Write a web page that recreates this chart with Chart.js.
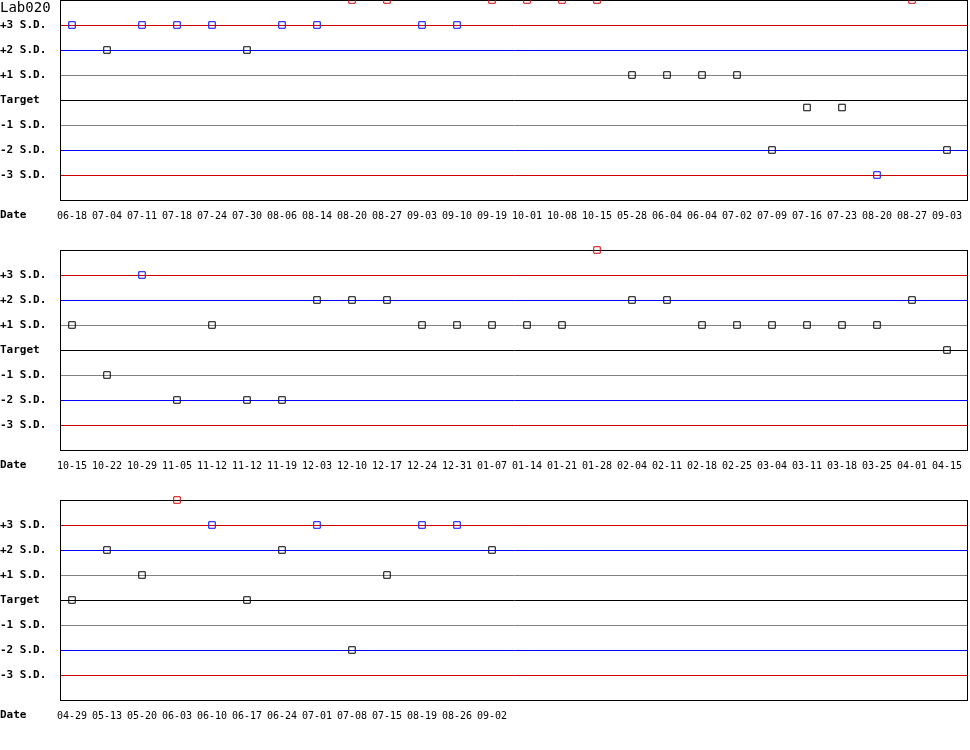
<!DOCTYPE html>
<html><head><meta charset="utf-8">
<script src="https://cdn.jsdelivr.net/npm/chart.js@4/dist/chart.umd.min.js"></script>
<style>
html,body{margin:0;padding:0;background:#fff;overflow:hidden;width:970px;height:750px;position:relative}
canvas{position:absolute;left:0;display:block}
</style>
</head><body>
<canvas id="c1" width="970" height="260" style="top:-10px"></canvas>
<canvas id="c2" width="970" height="260" style="top:240px"></canvas>
<canvas id="c3" width="970" height="260" style="top:490px"></canvas>
<script>
// ---- data ----
const chartTitle = 'Lab020';
const axisTitle = 'Date';

const dates1 = ['06-18','07-04','07-11','07-18','07-24','07-30','08-06','08-14','08-20','08-27','09-03','09-10','09-19','10-01','10-08','10-15','05-28','06-04','06-04','07-02','07-09','07-16','07-23','08-20','08-27','09-03'];
const values1 = [3,2,3,3,3,2,3,3,4,4,3,3,4,4,4,4,1,1,1,1,-2,-0.3,-0.3,-3,4,-2];

const dates2 = ['10-15','10-22','10-29','11-05','11-12','11-12','11-19','12-03','12-10','12-17','12-24','12-31','01-07','01-14','01-21','01-28','02-04','02-11','02-18','02-25','03-04','03-11','03-18','03-25','04-01','04-15'];
const values2 = [1,-1,3,-2,1,-2,-2,2,2,2,1,1,1,1,1,4,2,2,1,1,1,1,1,1,2,0];

const dates3 = ['04-29','05-13','05-20','06-03','06-10','06-17','06-24','07-01','07-08','07-15','08-19','08-26','09-02'];
const values3 = [0,2,1,4,3,0,2,3,-2,1,3,3,2];

const yTickValues = [4,3,2,1,0,-1,-2,-3,-4];
const yTickLabels = ['','+3 S.D.','+2 S.D.','+1 S.D.','Target','-1 S.D.','-2 S.D.','-3 S.D.',''];

// ---- styles ----
const RED = '#d00000', BLUE = '#0000ff', GRAY = '#808080', BLACK = '#000000';
const lineColorFor = v => {
  const a = Math.abs(v);
  if (a === 4 || a === 0) return BLACK;
  if (a === 3) return RED;
  if (a === 2) return BLUE;
  return GRAY;
};
const pointColorFor = v => {
  const a = Math.abs(v);
  if (a > 3) return RED;
  if (a === 3) return BLUE;
  return BLACK;
};

const frame = {
  id: 'frame',
  beforeDatasetsDraw(chart) {
    const a = chart.chartArea, ctx = chart.ctx;
    ctx.save();
    ctx.strokeStyle = BLACK; ctx.lineWidth = 1;
    ctx.strokeRect(Math.round(a.left) + 0.5, Math.round(a.top) + 0.5,
                   Math.round(a.right - a.left) - 1, Math.round(a.bottom - a.top));
    ctx.restore();
  },
  afterDraw(chart, args, opts) {
    const ctx = chart.ctx;
    ctx.save();
    ctx.fillStyle = BLACK;
    ctx.textAlign = 'left';
    ctx.textBaseline = 'middle';
    ctx.font = 'bold 11px "DejaVu Sans Mono"';
    ctx.fillText(axisTitle, 0, chart.chartArea.bottom + 15);
    if (opts.title) {
      ctx.font = '14px "DejaVu Sans Mono"';
      ctx.fillText(opts.title, 0, chart.chartArea.top + 8);
    }
    ctx.restore();
  }
};

function makeChart(id, dates, values, title) {
  const data = values.map((v, i) => ({x: i, y: v}));
  return new Chart(document.getElementById(id), {
    type: 'scatter',
    data: { datasets: [{
      data,
      showLine: false,
      pointStyle: 'rect',
      pointRadius: 4.6,
      pointHoverRadius: 4.6,
      pointBorderWidth: 1,
      pointBackgroundColor: 'rgba(0,0,0,0)',
      pointBorderColor: c => pointColorFor(c.raw.y),
      clip: false
    }]},
    options: {
      responsive: false,
      devicePixelRatio: 1,
      animation: false,
      events: [],
      layout: { autoPadding: false, padding: { top: 10, right: 2, bottom: 0, left: 0 } },
      plugins: { legend: {display: false}, tooltip: {enabled: false}, frame: { title } },
      scales: {
        x: {
          type: 'linear',
          min: -12/35, max: 25 + 21/35,
          afterBuildTicks: s => { s.ticks = dates.map((d, i) => ({value: i})); },
          afterFit: s => { s.height = 50; s.paddingLeft = 0; s.paddingRight = 0; },
          grid: { display: false, drawTicks: false },
          border: { display: false },
          ticks: {
            autoSkip: false, maxRotation: 0, minRotation: 0, padding: 10,
            color: BLACK,
            font: { family: '"DejaVu Sans Mono"', size: 10 },
            callback: v => dates[v]
          }
        },
        y: {
          type: 'linear',
          min: -4, max: 4,
          afterBuildTicks: s => { s.ticks = yTickValues.map(v => ({value: v})); },
          afterFit: s => { s.width = 60; s.paddingTop = 0; s.paddingBottom = 0; },
          grid: {
            drawTicks: false,
            color: c => lineColorFor(c.tick.value),
            lineWidth: 1
          },
          border: { display: true, color: BLACK },
          ticks: {
            crossAlign: 'far', padding: 0,
            color: BLACK,
            font: { family: '"DejaVu Sans Mono"', size: 11, weight: 'bold' },
            callback: v => yTickLabels[yTickValues.indexOf(v)]
          }
        }
      }
    },
    plugins: [frame]
  });
}

makeChart('c1', dates1, values1, chartTitle);
makeChart('c2', dates2, values2, null);
makeChart('c3', dates3, values3, null);
</script>
</body></html>
